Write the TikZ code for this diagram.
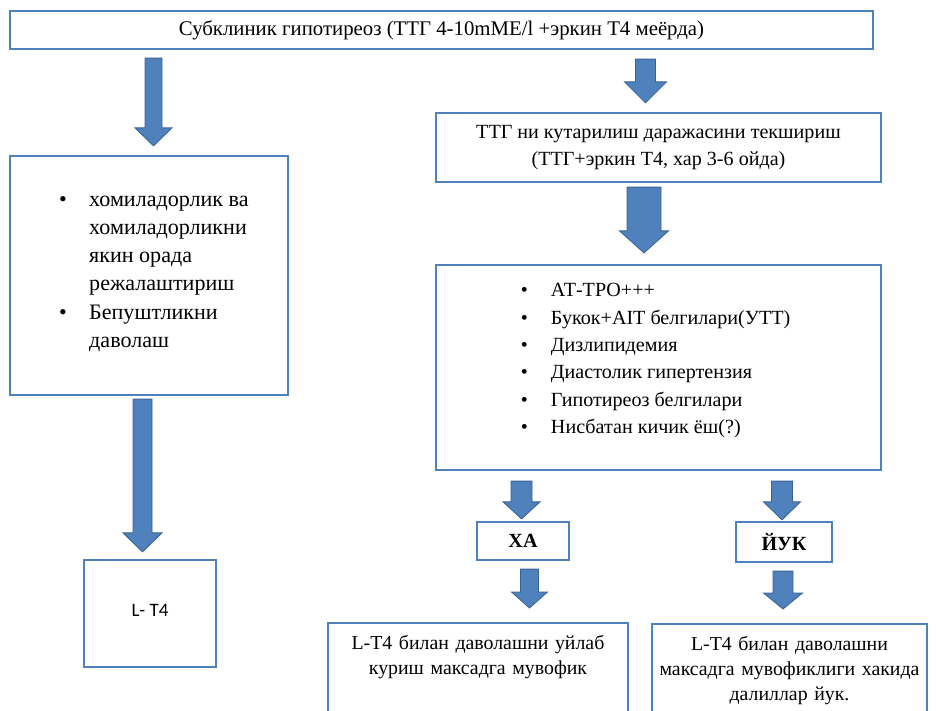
\documentclass[tikz,border=0pt]{standalone}
\usepackage{fontspec}
\setmainfont{Liberation Serif}
\newfontfamily\calibri{Carlito}
\usetikzlibrary{calc}
\definecolor{boxblue}{HTML}{4F81BD}
\definecolor{arrowblue}{HTML}{4F81BD}
\definecolor{arrowedge}{HTML}{3A6395}
\tikzset{
  box/.style={draw=boxblue,line width=1.6pt,fill=white,inner sep=3pt,font=\fontsize{14.3}{19.5}\selectfont},
  barrow/.style={fill=arrowblue,draw=arrowedge,line width=0.6pt}
}
% block arrow: x, from, to, half shaft, half head, head length
\newcommand{\blockarrow}[6]{%
  \filldraw[barrow] let \p1=(#2), \p2=(#3) in
    (#1-#4,\y1) -- (#1+#4,\y1) -- (#1+#4,\y2+#6) -- (#1+#5,\y2+#6)
    -- (#1,\y2) -- (#1-#5,\y2+#6) -- (#1-#4,\y2+#6) -- cycle;}
\begin{document}
\begin{tikzpicture}
\useasboundingbox (0,0) rectangle (23.4,-17.775);
\node[box,minimum width=21.575cm,minimum height=0.95cm] (subcl) at (11.0375,-0.75)
  {\fontsize{14.8}{18}\selectfont\raisebox{-2pt}{Субклиник гипотиреоз (ТТГ 4-10mME/l +эркин Т4 меёрда)}};
%
\node[box,minimum width=6.95cm,minimum height=5.975cm,font=\fontsize{15.7}{20}\selectfont] (plan) at (3.725,-6.8875)
  {\hspace*{7pt}\begin{tabular}{@{}p{0.75cm}@{}l@{}}
   • & хомиладорлик ва\\ & хомиладорликни\\ & якин орада\\ & режалаштириш\\
   • & Бепуштликни\\ & даволаш\\[6pt]
   \end{tabular}};
\node[box,minimum width=3.3cm,minimum height=2.675cm] (lt4) at (3.75,-15.3375)
  {\calibri\fontsize{13.5}{16}\selectfont\raisebox{4pt}{L- T4}};
%
\node[box,minimum width=11.125cm,minimum height=1.725cm,align=center] (check) at (16.4625,-3.6875)
  {ТТГ ни кутарилиш даражасини текшириш\\(ТТГ+эркин Т4, хар 3-6 ойда)};
\node[box,minimum width=11.125cm,minimum height=5.125cm] (signs) at (16.4625,-9.1875)
  {\begin{tabular}{@{}p{0.75cm}@{}l@{}}
   • & АТ-ТРО+++\\
   • & Букок+АIT белгилари(УТТ)\\
   • & Дизлипидемия\\
   • & Диастолик гипертензия\\
   • & Гипотиреоз белгилари\\
   • & Нисбатан кичик ёш(?)\\[11pt]
   \end{tabular}\hspace*{4pt}};
%
\node[box,minimum width=2.3cm,minimum height=0.95cm] (yes) at (13.075,-13.525) {\textbf{ХА}};
\node[box,minimum width=2.4cm,minimum height=1.0cm] (no) at (19.6,-13.55) {\textbf{ЙУК}};
\node[box,anchor=north,inner xsep=0pt,inner ysep=9pt,text width=7.5cm,align=center,text depth=2.2cm,
  font=\fontsize{14.1}{17.5}\selectfont] (treat) at (11.95,-15.55)
  {L-T4 билан даволашни уйлаб\\куриш максадга мувофик};
\node[box,anchor=north,inner xsep=0pt,inner ysep=9pt,text width=6.875cm,align=center,text depth=1.6cm,
  font=\fontsize{14.1}{17.5}\selectfont] (notreat) at (19.7375,-15.575)
  {L-T4 билан даволашни\\максадга мувофиклиги хакида\\далиллар йук.};
%
\blockarrow{3.8375cm}{[yshift=-0.2cm]subcl.south}{[yshift=0.225cm]plan.north}{0.2125cm}{0.4625cm}{0.45cm}
\blockarrow{3.5625cm}{[yshift=-0.075cm]plan.south}{[yshift=0.175cm]lt4.north}{0.2375cm}{0.4875cm}{0.475cm}
\blockarrow{16.1375cm}{[yshift=-0.225cm]subcl.south}{[yshift=0.225cm]check.north}{0.25cm}{0.525cm}{0.525cm}
\blockarrow{16.1cm}{[yshift=-0.1cm]check.south}{[yshift=0.275cm]signs.north}{0.425cm}{0.6125cm}{0.55cm}
\blockarrow{13.0375cm}{[yshift=-0.25cm]signs.south}{[yshift=0.05cm]yes.north}{0.2625cm}{0.4625cm}{0.425cm}
\blockarrow{13.2375cm}{[yshift=-0.2cm]yes.south}{[yshift=0.35cm]treat.north}{0.225cm}{0.45cm}{0.4cm}
\blockarrow{19.55cm}{[yshift=-0.25cm]signs.south}{[yshift=0.025cm]no.north}{0.2625cm}{0.4625cm}{0.45cm}
\blockarrow{19.575cm}{[yshift=-0.2cm]no.south}{[yshift=0.35cm]notreat.north}{0.25cm}{0.4875cm}{0.4cm}
\end{tikzpicture}
\end{document}
